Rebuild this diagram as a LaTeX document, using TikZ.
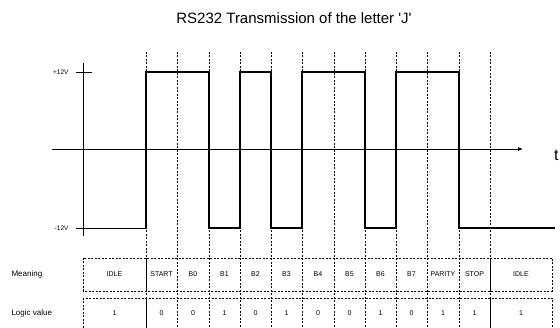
\documentclass[tikz,border=0pt]{standalone}
\usepackage{fontspec}
\setmainfont{Liberation Sans}
\usetikzlibrary{arrows}

\begin{document}
\begin{tikzpicture}[x=1pt,y=-1pt,
  axis/.style={black,line width=0.6pt},
  signal/.style={black,line width=2.4pt},
  grid/.style={black,line width=0.7pt,dash pattern=on 2pt off 1.5pt},
  divider/.style={black,line width=0.7pt},
  cell/.style={font=\fontsize{7}{8}\selectfont},
  rowlabel/.style={font=\fontsize{8}{9}\selectfont,anchor=west},
  volt/.style={font=\fontsize{6.5}{7}\selectfont,anchor=east}]
\useasboundingbox (0,0) rectangle (560,328);
\node (title) at (294,18) {\fontsize{15}{17}\selectfont RS232 Transmission of the letter \textquotesingle J\textquotesingle};

% axes
\coordinate (tleft) at (52,149);
\coordinate (tright) at (522,149);
\coordinate (vtop) at (83,63);
\coordinate (vbot) at (83,236);
\draw[axis,->,>=stealth'] (tleft) -- (tright);
\draw[axis] (vtop) -- (vbot);
\node[anchor=west,inner sep=0pt] (t) at (554,155) {\fontsize{16}{18}\selectfont t};
\node[volt] (vhigh) at (72,72) {+12V};
\node[volt] (vlow) at (72,228) {-12V};
\draw[axis] (76,72) -- (92,72);
\draw[axis] (76,228) -- (146,228);

% bit boundaries
\foreach \x in {146,177,209,240,271,302,334,365,396,427,459,490}
  \draw[grid] (\x,52) -- (\x,330);

% signal
\draw[signal] (146,228) -- (146,72) -- (209,72) -- (209,228) -- (240,228)
  -- (240,72) -- (271,72) -- (271,228) -- (302,228) -- (302,72) -- (365,72)
  -- (365,228) -- (396,228) -- (396,72) -- (459,72) -- (459,228) -- (555,228);

% table
\draw[grid] (83,258) rectangle (552,291);
\draw[grid] (83,298) rectangle (552,330);
\foreach \x in {146,490} {
  \draw[divider] (\x,258) -- (\x,291);
  \draw[divider] (\x,298) -- (\x,330);
}
\node[rowlabel] (meaning) at (8,274) {Meaning};
\node[rowlabel] (logic) at (8,313) {Logic value};
\foreach \a/\b/\txt/\bit [count=\i] in {83/146/IDLE/1, 146/177/START/0,
    177/209/B0/0, 209/240/B1/1, 240/271/B2/0, 271/302/B3/1, 302/334/B4/0,
    334/365/B5/0, 365/396/B6/1, 396/427/B7/0, 427/459/PARITY/1,
    459/490/STOP/1, 490/552/IDLE/1} {
  \node[cell] (mean\i) at ({(\a+\b)/2},274) {\txt};
  \node[cell] (bit\i) at ({(\a+\b)/2},313) {\bit};
}
\end{tikzpicture}
\end{document}
